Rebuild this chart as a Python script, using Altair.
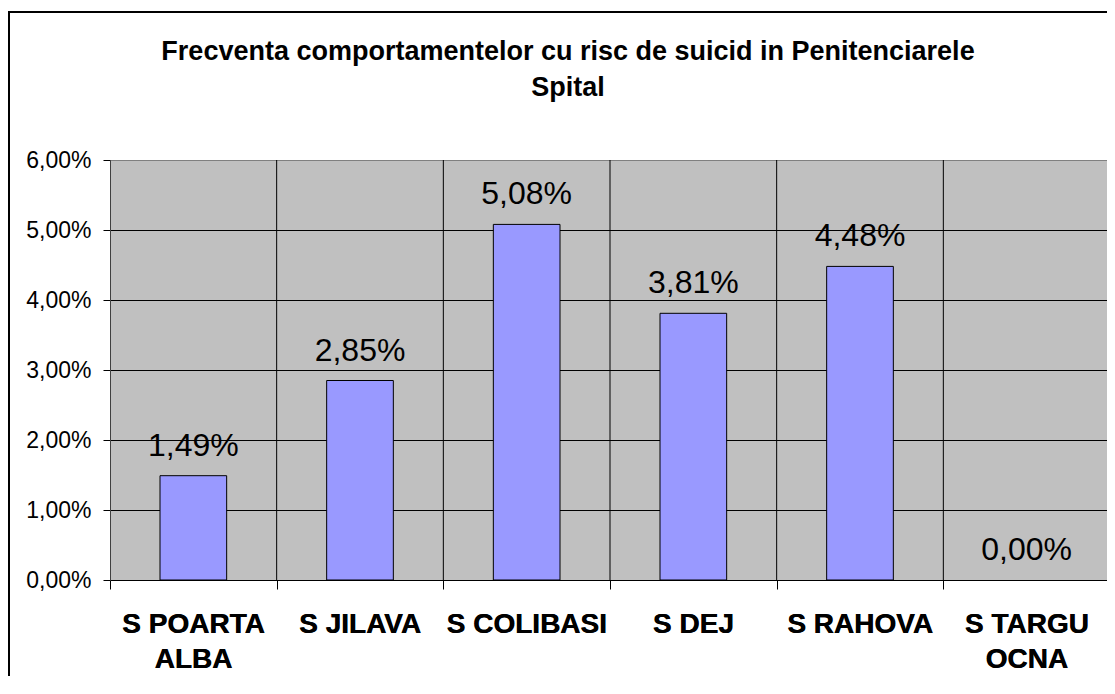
import altair as alt
import pandas as pd

categories = ["S POARTA\nALBA", "S JILAVA", "S COLIBASI", "S DEJ", "S RAHOVA", "S TARGU\nOCNA"]
values = [0.0149, 0.0285, 0.0508, 0.0381, 0.0448, 0.0]
boundaries = [1, 2, 3, 4, 5]
title_lines = ["Frecventa comportamentelor cu risc de suicid in Penitenciarele", "Spital"]

df = pd.DataFrame({"cat": categories, "v": values})
bdf = pd.DataFrame({"b": boundaries})
FONT = "Liberation Sans"

base = alt.Chart(df).encode(
    x=alt.X("cat:N", sort=categories, title=None,
            scale=alt.Scale(paddingInner=0.6, paddingOuter=0.3),
            axis=alt.Axis(orient="bottom", ticks=False, domain=False, grid=False, labelAngle=0,
                          labelExpr="split(datum.label, '\\n')",
                          labelFont=FONT, labelFontSize=28, labelFontWeight="bold",
                          labelColor="black", labelLineHeight=35, labelPadding=30,
                          labelBaseline="top")),
    y=alt.Y("v:Q", title=None,
            scale=alt.Scale(domain=[0, 0.06], nice=False),
            axis=alt.Axis(values=[0, 0.01, 0.02, 0.03, 0.04, 0.05, 0.06],
                          labelExpr="replace(format(datum.value, '.2%'), '.', ',')",
                          labelFont=FONT, labelFontSize=23, labelColor="black",
                          labelPadding=12, tickSize=7, tickColor="black",
                          domain=True, domainColor="#404040",
                          grid=True, gridWidth=1,
                          gridColor={"condition": {"test": "datum.value >= 0.059", "value": "#808080"}, "value": "black"})),
)

bars = base.mark_bar(fill="#9999FF", stroke="black", strokeWidth=1).encode(
    strokeOpacity=alt.condition("datum.v > 0", alt.value(1), alt.value(0)),
    fillOpacity=alt.condition("datum.v > 0", alt.value(1), alt.value(0)),
)

labels = base.transform_calculate(
    lab="replace(format(datum.v, '.2%'), '.', ',')"
).mark_text(font=FONT, fontSize=32, color="black", baseline="alphabetic", dy=-20).encode(
    text="lab:N"
)

vlines = alt.Chart(bdf).mark_rule(color="black", strokeWidth=1).encode(
    x=alt.X("b:Q", title=None, scale=alt.Scale(domain=[0, 6], nice=False),
            axis=alt.Axis(orient="bottom", values=[0, 1, 2, 3, 4, 5, 6], labels=False,
                          domain=False, grid=False, ticks=True, tickSize=9,
                          tickColor="black"))
)

frame = alt.Chart(bdf).mark_rect(fill=None, stroke="black", strokeWidth=2).encode(
    x=alt.value(-101), x2=alt.value(1010), y=alt.value(-148), y2=alt.value(530)
)

chart = alt.layer(vlines, bars, labels, frame).resolve_scale(x="independent").properties(
    width=1000, height=420,
    title=alt.TitleParams(text=title_lines, font=FONT, fontSize=27, fontWeight="bold",
                          color="black", anchor="middle", dx=-42, lineHeight=36, offset=-91),
    autosize=alt.AutoSizeParams(type="none"),
    padding={"left": 102, "top": 152, "right": -3, "bottom": 96},
    background="white",
).configure_view(fill="#C0C0C0", stroke="#808080", strokeWidth=1)

chart.save("out.html", embed_options={"renderer": "svg", "actions": False})
